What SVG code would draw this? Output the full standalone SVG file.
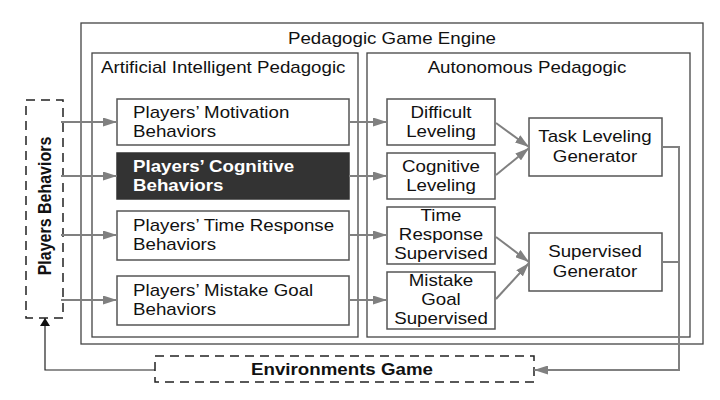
<svg xmlns="http://www.w3.org/2000/svg" width="720" height="400" viewBox="0 0 720 400">
<style>
text{font-family:"Liberation Sans",Arial,sans-serif;font-size:16px;fill:#111}
.c{text-anchor:middle}
.b{font-weight:bold}
.w{fill:#fff}
.box{fill:#fff;stroke:#555;stroke-width:1.5}
.frame{fill:none;stroke:#444;stroke-width:1.3}
.dash{fill:#fff;stroke:#222;stroke-width:1.5;stroke-dasharray:9,6}
.con{fill:none;stroke:#808080;stroke-width:2}
.blk{fill:none;stroke:#222;stroke-width:1.2}
</style>
<defs>
<marker id="ag" viewBox="0 0 14 9" refX="14" refY="4.5" markerWidth="14" markerHeight="9" markerUnits="userSpaceOnUse" orient="auto"><path d="M0,0 L14,4.5 L0,9 Z" fill="#808080"/></marker>
<marker id="ab" viewBox="0 0 8 10" refX="8" refY="5" markerWidth="8" markerHeight="10" markerUnits="userSpaceOnUse" orient="auto"><path d="M0,0 L8,5 L0,10 Z" fill="#111"/></marker>
</defs>
<rect width="720" height="400" fill="#fff"/>
<g id="engine">
<rect class="frame" x="81" y="23" width="622" height="321"/>
<text class="c" transform="translate(392,44) scale(1.17,1)">Pedagogic Game Engine</text>
</g>
<g id="aip">
<rect class="frame" x="92" y="53" width="266" height="284"/>
<text transform="translate(101,73) scale(1.17,1)">Artificial Intelligent Pedagogic</text>
</g>
<g id="ap">
<rect class="frame" x="367" y="53" width="323" height="284"/>
<text class="c" transform="translate(527,73) scale(1.17,1)">Autonomous Pedagogic</text>
</g>
<g id="players-behaviors">
<rect class="dash" x="26" y="100" width="37" height="218"/>
<text class="c b" transform="translate(51,206) scale(1.17,1) rotate(-90)">Players Behaviors</text>
</g>
<g id="environments-game">
<rect class="dash" x="155" y="356" width="379" height="26"/>
<text class="c b" transform="translate(342,375) scale(1.17,1)">Environments Game</text>
</g>
<g id="motivation">
<rect class="box" x="117" y="99" width="232" height="46"/>
<text transform="translate(133,118) scale(1.17,1)">Players’ Motivation</text>
<text transform="translate(133,137) scale(1.17,1)">Behaviors</text>
</g>
<g id="cognitive">
<rect x="117" y="153" width="232" height="46" fill="#333" stroke="#333" stroke-width="1.5"/>
<text class="b w" transform="translate(133,172) scale(1.17,1)">Players’ Cognitive</text>
<text class="b w" transform="translate(133,191) scale(1.17,1)">Behaviors</text>
</g>
<g id="time-response">
<rect class="box" x="117" y="211" width="232" height="49"/>
<text transform="translate(133,231) scale(1.17,1)">Players’ Time Response</text>
<text transform="translate(133,250) scale(1.17,1)">Behaviors</text>
</g>
<g id="mistake-goal">
<rect class="box" x="117" y="276" width="232" height="49"/>
<text transform="translate(133,296) scale(1.17,1)">Players’ Mistake Goal</text>
<text transform="translate(133,315) scale(1.17,1)">Behaviors</text>
</g>
<g id="difficult-leveling">
<rect class="box" x="387" y="99" width="108" height="46"/>
<text class="c" transform="translate(441,118) scale(1.17,1)">Difficult</text>
<text class="c" transform="translate(441,137) scale(1.17,1)">Leveling</text>
</g>
<g id="cognitive-leveling">
<rect class="box" x="387" y="153" width="108" height="46"/>
<text class="c" transform="translate(441,172) scale(1.17,1)">Cognitive</text>
<text class="c" transform="translate(441,191) scale(1.17,1)">Leveling</text>
</g>
<g id="time-response-supervised">
<rect class="box" x="387" y="207" width="108" height="57"/>
<text class="c" transform="translate(441,221) scale(1.17,1)">Time</text>
<text class="c" transform="translate(441,240) scale(1.17,1)">Response</text>
<text class="c" transform="translate(441,259) scale(1.17,1)">Supervised</text>
</g>
<g id="mistake-goal-supervised">
<rect class="box" x="387" y="272" width="108" height="57"/>
<text class="c" transform="translate(441,286) scale(1.17,1)">Mistake</text>
<text class="c" transform="translate(441,305) scale(1.17,1)">Goal</text>
<text class="c" transform="translate(441,324) scale(1.17,1)">Supervised</text>
</g>
<g id="task-leveling-generator">
<rect class="box" x="529" y="118" width="133" height="58"/>
<text class="c" transform="translate(595,142) scale(1.17,1)">Task Leveling</text>
<text class="c" transform="translate(595,162) scale(1.17,1)">Generator</text>
</g>
<g id="supervised-generator">
<rect class="box" x="529" y="233" width="133" height="58"/>
<text class="c" transform="translate(595,257) scale(1.17,1)">Supervised</text>
<text class="c" transform="translate(595,277) scale(1.17,1)">Generator</text>
</g>
<g id="connectors">
<path class="con" d="M61,122 H117" marker-end="url(#ag)"/>
<path class="con" d="M61,176 H117" marker-end="url(#ag)"/>
<path class="con" d="M61,235 H117" marker-end="url(#ag)"/>
<path class="con" d="M61,300 H117" marker-end="url(#ag)"/>
<path class="con" d="M349,122 H387" marker-end="url(#ag)"/>
<path class="con" d="M349,176 H387" marker-end="url(#ag)"/>
<path class="con" d="M349,235 H387" marker-end="url(#ag)"/>
<path class="con" d="M349,300 H387" marker-end="url(#ag)"/>
<path class="con" d="M496,123 L529,147" marker-end="url(#ag)"/>
<path class="con" d="M496,175 L529,148" marker-end="url(#ag)"/>
<path class="con" d="M496,237 L529,262" marker-end="url(#ag)"/>
<path class="con" d="M496,299 L529,263" marker-end="url(#ag)"/>
<path class="con" d="M662,147 H679 V370 H534" marker-end="url(#ag)"/>
<path class="con" d="M662,262 H679"/>
<path class="blk" d="M155,370 H45 V318" marker-end="url(#ab)"/>
</g>
</svg>
